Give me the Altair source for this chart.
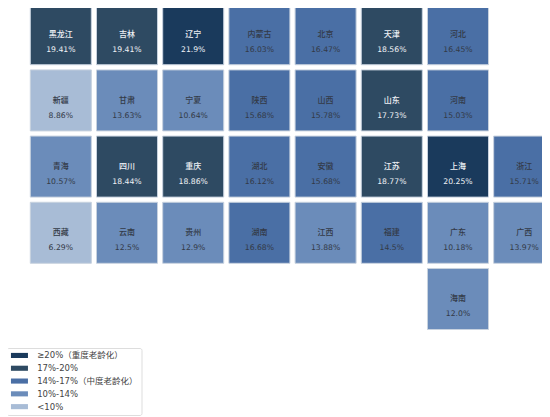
import altair as alt
import pandas as pd

names = ["黑龙江","吉林","辽宁","内蒙古","北京","天津","河北",
         "新疆","甘肃","宁夏","陕西","山西","山东","河南",
         "青海","四川","重庆","湖北","安徽","江苏","上海","浙江",
         "西藏","云南","贵州","湖南","江西","福建","广东","广西",
         "海南"]
values = [19.41,19.41,21.9,16.03,16.47,18.56,16.45,
          8.86,13.63,10.64,15.68,15.78,17.73,15.03,
          10.57,18.44,18.86,16.12,15.68,18.77,20.25,15.71,
          6.29,12.5,12.9,16.68,13.88,14.5,10.18,13.97,
          12.0]
value_labels = ["19.41%","19.41%","21.9%","16.03%","16.47%","18.56%","16.45%",
                "8.86%","13.63%","10.64%","15.68%","15.78%","17.73%","15.03%",
                "10.57%","18.44%","18.86%","16.12%","15.68%","18.77%","20.25%","15.71%",
                "6.29%","12.5%","12.9%","16.68%","13.88%","14.5%","10.18%","13.97%",
                "12.0%"]
cols = [0,1,2,3,4,5,6, 0,1,2,3,4,5,6, 0,1,2,3,4,5,6,7, 0,1,2,3,4,5,6,7, 6]
rows = [0]*7 + [1]*7 + [2]*8 + [3]*8 + [4]
tiers = ["≥20%（重度老龄化）","17%-20%","14%-17%（中度老龄化）","10%-14%","<10%"]
tier_colors = ["#1a3a5c","#2e4a62","#4a6fa5","#6b8cba","#a8bcd6"]

def tier(v):
    if v >= 20: return tiers[0]
    if v >= 17: return tiers[1]
    if v >= 14: return tiers[2]
    if v >= 10: return tiers[3]
    return tiers[4]

df = pd.DataFrame({"name":names,"value":values,"label":value_labels,"col":cols,"row":rows})
df["tier"] = df["value"].map(tier)

FONT = "DejaVu Sans, Noto Sans CJK SC"
xs = alt.Scale(domain=list(range(8)), range=[22.3, 546.7], paddingInner=0.078, paddingOuter=0)
ys = alt.Scale(domain=list(range(5)), range=[-4.3, 321.5], paddingInner=0.078, paddingOuter=0)
X = alt.X("col:O", scale=xs, axis=None)
Y = alt.Y("row:O", scale=ys, axis=None)
ink = alt.condition("datum.value >= 17", alt.value("#eef1f5"), alt.value("#333a47"))

cells = alt.Chart(df).mark_rect(stroke="#c8d2df", strokeWidth=1).encode(
    x=X, y=Y,
    color=alt.Color("tier:N", scale=alt.Scale(domain=tiers, range=tier_colors), sort=tiers,
        legend=alt.Legend(orient="none", legendX=-1.5, legendY=340, title=None,
            symbolType="M-1,-0.85H4.67V0.85H-1Z", symbolSize=36, symbolStrokeWidth=0,
            labelFont=FONT, labelFontSize=8.5, labelColor="#444444", labelOffset=19,
            fillColor="white", strokeColor="#dddddd", padding=3.2, rowPadding=3.8,
            labelLimit=200, cornerRadius=2)),
    tooltip=["name:N","label:N"],
)
name_text = alt.Chart(df).mark_text(font=FONT, fontSize=8, fontWeight=500, dy=0.5, baseline="middle").encode(
    x=X, y=Y, text="name:N", color=ink)
value_text = alt.Chart(df).mark_text(font=FONT, fontSize=7.7, dy=15.5, baseline="middle").encode(
    x=X, y=Y, text="label:N", color=ink)

chart = alt.layer(cells, name_text, value_text).properties(
    width=534, height=408.5, padding=0, autosize=alt.AutoSizeParams(type="none"),
).configure_view(stroke=None)

chart.save("out.html", embed_options={"renderer": "svg", "actions": False})
